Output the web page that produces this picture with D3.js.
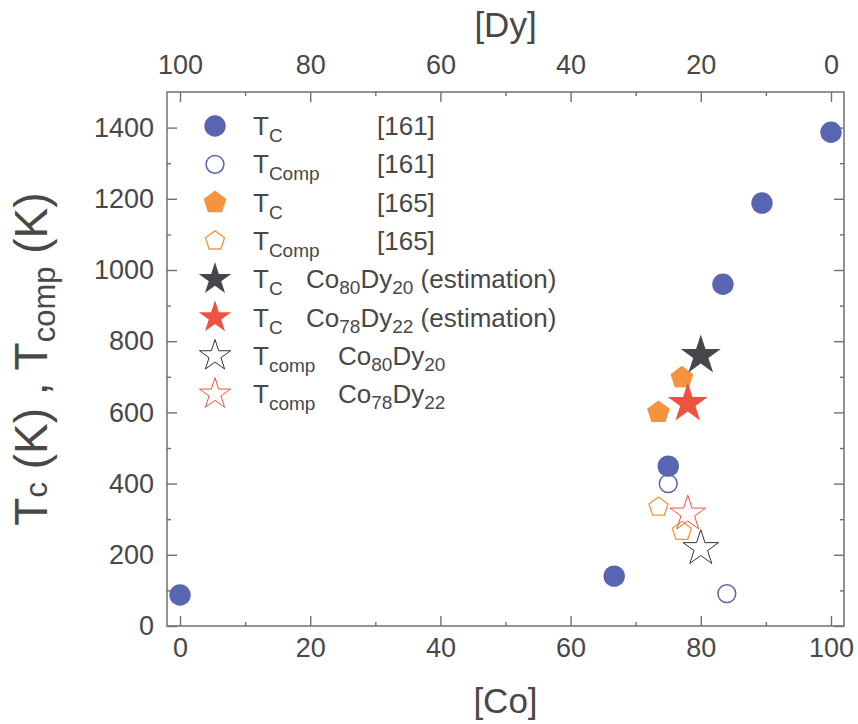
<html>
  <head>
    <script src="https://d3js.org/d3.v7.min.js"></script>
    <style>
      body {
        margin: 0;
        background: #fff;
      }
      svg text {
        font-family: "Liberation Sans", Arial, sans-serif;
        fill: #484848;
      }
    </style>
  </head>

  <body>
    <svg id="chart" width="858" height="724"></svg>

    <script>
      // [161] data: Tc and Tcomp vs Co content
      const tc161Co = [0, 66.7, 75, 83.4, 89.4, 100];
      const tc161 = [87, 140, 449, 960, 1188, 1387];
      const tcomp161Co = [75, 84];
      const tcomp161 = [400, 91];

      // [165] data
      const tc165Co = [73.5, 77.1];
      const tc165 = [600, 697];
      const tcomp165Co = [73.5, 77.1];
      const tcomp165 = [334, 266];

      // estimations for Co80Dy20 and Co78Dy22
      const estCo = [80, 78];
      const estTc = [760, 625];
      const estTcomp = [218, 315];

      const coTicks = [0, 20, 40, 60, 80, 100];
      const tTicks = [0, 200, 400, 600, 800, 1000, 1200, 1400];

      const legendMain = [
        "T_{C}",
        "T_{Comp}",
        "T_{C}",
        "T_{Comp}",
        "T_{C}",
        "T_{C}",
        "T_{comp}",
        "T_{comp}",
      ];
      const legendRef = [
        "[161]",
        "[161]",
        "[165]",
        "[165]",
        "Co_{80}Dy_{20} (estimation)",
        "Co_{78}Dy_{22} (estimation)",
        "Co_{80}Dy_{20}",
        "Co_{78}Dy_{22}",
      ];

      const margin = { top: 92, right: 14, bottom: 98, left: 167 };
      const width = 858 - margin.left - margin.right;
      const height = 724 - margin.top - margin.bottom;

      const svg = d3.select("svg#chart");
      const g = svg
        .append("g")
        .attr("transform", `translate(${margin.left},${margin.top})`);

      const x = d3.scaleLinear().domain([-2, 102]).range([0, width]);
      const xTop = d3.scaleLinear().domain([102, -2]).range([0, width]); // Dy = 100 - Co
      const y = d3.scaleLinear().domain([0, 1500]).range([height, 0]);

      const axisColor = "#707070";

      function styleAxis(sel) {
        sel.select(".domain").remove();
        sel.selectAll("line").attr("stroke", axisColor).attr("stroke-width", 1.4);
        sel
          .selectAll("text")
          .attr("font-family", "'Liberation Sans', Arial, sans-serif")
          .attr("font-size", 27)
          .attr("fill", "#484848");
      }

      const minorCo = d3.range(10, 100, 20);
      const minorT = d3.range(100, 1500, 200);
      const fmt = d3.format("d");

      // bottom
      g.append("g")
        .attr("transform", `translate(0,${height})`)
        .call(d3.axisBottom(x).tickValues(coTicks).tickSize(-10).tickPadding(12).tickFormat(fmt))
        .call(styleAxis);
      g.append("g")
        .attr("transform", `translate(0,${height})`)
        .call(d3.axisBottom(x).tickValues(minorCo).tickSize(-4).tickFormat(""))
        .call(styleAxis);

      // top (Dy)
      g.append("g")
        .call(d3.axisTop(xTop).tickValues(coTicks).tickSize(-10).tickPadding(18).tickFormat(fmt))
        .call(styleAxis);
      g.append("g")
        .call(d3.axisTop(xTop).tickValues(minorCo).tickSize(-4).tickFormat(""))
        .call(styleAxis);

      // left
      g.append("g")
        .call(d3.axisLeft(y).tickValues(tTicks).tickSize(-10).tickPadding(13).tickFormat(fmt))
        .call(styleAxis);
      g.append("g")
        .call(d3.axisLeft(y).tickValues(minorT).tickSize(-4).tickFormat(""))
        .call(styleAxis);

      // right
      g.append("g")
        .attr("transform", `translate(${width},0)`)
        .call(d3.axisRight(y).tickValues(tTicks).tickSize(-10).tickFormat(""))
        .call(styleAxis);
      g.append("g")
        .attr("transform", `translate(${width},0)`)
        .call(d3.axisRight(y).tickValues(minorT).tickSize(-4).tickFormat(""))
        .call(styleAxis);

      g.append("rect")
        .attr("width", width)
        .attr("height", height)
        .attr("fill", "none")
        .attr("stroke", axisColor)
        .attr("stroke-width", 1.5);

      // symbols
      const symbolPentagon = {
        draw(ctx, size) {
          const r = Math.sqrt(size);
          for (let i = 0; i < 5; i++) {
            const a = -Math.PI / 2 + (i * 2 * Math.PI) / 5;
            if (i) ctx.lineTo(r * Math.cos(a), r * Math.sin(a));
            else ctx.moveTo(r * Math.cos(a), r * Math.sin(a));
          }
          ctx.closePath();
        },
      };

      const blue = "#5865b0";
      const orange = "#f5943f";
      const dark = "#46474a";
      const red = "#ee5240";

      const styles = [
        { type: d3.symbolCircle, size: 360, fill: blue, stroke: "none" },
        { type: d3.symbolCircle, size: 250, fill: "none", stroke: blue, sw: 1.5 },
        { type: symbolPentagon, size: 144, fill: orange, stroke: "none" },
        { type: symbolPentagon, size: 100, fill: "none", stroke: orange, sw: 1.3 },
        { type: d3.symbolStar, size: 495, fill: dark, stroke: "none" },
        { type: d3.symbolStar, size: 495, fill: red, stroke: "none" },
        { type: d3.symbolStar, size: 390, fill: "none", stroke: "#333", sw: 1 },
        { type: d3.symbolStar, size: 390, fill: "none", stroke: red, sw: 1 },
      ];

      const series = [
        { co: tc161Co, t: tc161, s: 0 },
        { co: tcomp161Co, t: tcomp161, s: 1 },
        { co: tcomp165Co, t: tcomp165, s: 3 },
        { co: [estCo[0]], t: [estTcomp[0]], s: 6 },
        { co: [estCo[1]], t: [estTcomp[1]], s: 7 },
        { co: tc165Co, t: tc165, s: 2 },
        { co: [estCo[0]], t: [estTc[0]], s: 4 },
        { co: [estCo[1]], t: [estTc[1]], s: 5 },
      ];

      series.forEach((ser) => {
        const st = styles[ser.s];
        const pts = ser.co.map((c, i) => ({ co: c, t: ser.t[i] }));
        g.append("g")
          .selectAll("path")
          .data(pts)
          .join("path")
          .attr("transform", (d) => `translate(${x(d.co)},${y(d.t)})`)
          .attr("d", d3.symbol().type(st.type).size(st.size))
          .attr("fill", st.fill)
          .attr("stroke", st.stroke)
          .attr("stroke-width", st.sw || 0);
      });

      // text with _{sub} markup
      function richText(sel, str, subSize, shift) {
        const parts = str.split(/_\{([^}]*)\}/);
        parts.forEach((p, i) => {
          if (p === "") return;
          const sub = i % 2 === 1;
          const ts = sel.append("tspan").text(p);
          if (sub) ts.attr("font-size", subSize).attr("dy", shift);
          else if (i > 0) ts.attr("dy", -shift);
        });
      }

      // legend
      const legX = 215 - margin.left;
      const legY0 = 126 - margin.top;
      const legStep = 38.3;
      const legendStyles = styles.map((st, i) =>
        i >= 4 ? Object.assign({}, st, { size: i < 6 ? 330 : 300 }) : st
      );

      legendMain.forEach((lab, i) => {
        const st = legendStyles[i];
        const cy = legY0 + i * legStep;
        g.append("path")
          .attr("transform", `translate(${legX},${cy})`)
          .attr("d", d3.symbol().type(st.type).size(st.size))
          .attr("fill", st.fill)
          .attr("stroke", st.stroke)
          .attr("stroke-width", st.sw || 0);
        const t1 = g
          .append("text")
          .attr("x", 253 - margin.left)
          .attr("y", cy + 9)
          .attr("font-size", 26);
        richText(t1, lab, 19, 7);
        const refX = i < 4 ? 377 : i < 6 ? 306 : 338;
        const t2 = g
          .append("text")
          .attr("x", refX - margin.left)
          .attr("y", cy + 9)
          .attr("font-size", 26);
        richText(t2, legendRef[i], 19, 6);
      });

      // axis titles
      svg
        .append("text")
        .attr("x", margin.left + width / 2)
        .attr("y", 37)
        .attr("text-anchor", "middle")
        .attr("font-size", 35)
        .text("[Dy]");

      svg
        .append("text")
        .attr("x", margin.left + width / 2)
        .attr("y", 713)
        .attr("text-anchor", "middle")
        .attr("font-size", 35)
        .text("[Co]");

      const yt = svg
        .append("text")
        .attr("transform", `translate(47,${margin.top + height / 2}) rotate(-90)`)
        .attr("text-anchor", "middle")
        .attr("font-size", 46);
      yt.append("tspan").text("T");
      yt.append("tspan").attr("font-size", 31).text("c");
      yt.append("tspan").text(" (K) , T");
      yt.append("tspan").attr("font-size", 31).attr("dy", 8).text("comp");
      yt.append("tspan").attr("dy", -8).text(" (K)");
    </script>
  </body>
</html>
